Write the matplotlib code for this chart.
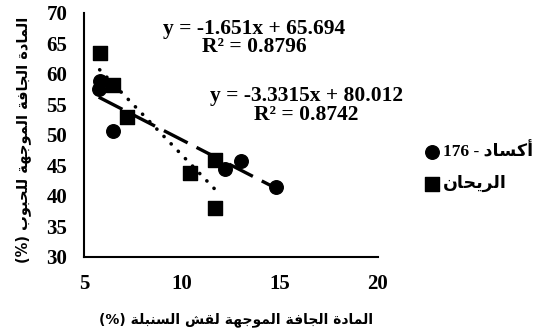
import matplotlib
matplotlib.use("Agg")
import matplotlib.pyplot as plt
import numpy as np

# ---- data ----
aksad_label = "أكساد - 176"
rayhan_label = "الريحان"
x_label = "المادة الجافة الموجهة لقش السنبلة (%)"
y_label = "المادة الجافة الموجهة للحبوب (%)"

aksad_x = [5.8, 5.75, 6.5, 12.2, 13.0, 14.8]
aksad_y = [58.9, 57.6, 50.7, 44.5, 45.7, 41.4]
rayhan_x = [5.8, 6.5, 7.2, 10.4, 11.7, 11.7]
rayhan_y = [63.4, 58.2, 53.0, 43.8, 45.9, 38.0]

aksad_slope, aksad_icpt, aksad_r2 = -1.651, 65.694, 0.8796
rayhan_slope, rayhan_icpt, rayhan_r2 = -3.3315, 80.012, 0.8742

x_ticks = [5, 10, 15, 20]
y_ticks = [30, 35, 40, 45, 50, 55, 60, 65, 70]

# ---- minimal Arabic shaping (presentation forms) + visual ordering ----
FORMS = {
    '\u0627': ('\uFE8D', '\uFE8E', None, None),
    '\u0623': ('\uFE83', '\uFE84', None, None),
    '\u0628': ('\uFE8F', '\uFE90', '\uFE91', '\uFE92'),
    '\u0629': ('\uFE93', '\uFE94', None, None),
    '\u062C': ('\uFE9D', '\uFE9E', '\uFE9F', '\uFEA0'),
    '\u062D': ('\uFEA1', '\uFEA2', '\uFEA3', '\uFEA4'),
    '\u062F': ('\uFEA9', '\uFEAA', None, None),
    '\u0631': ('\uFEAD', '\uFEAE', None, None),
    '\u0633': ('\uFEB1', '\uFEB2', '\uFEB3', '\uFEB4'),
    '\u0634': ('\uFEB5', '\uFEB6', '\uFEB7', '\uFEB8'),
    '\u0641': ('\uFED1', '\uFED2', '\uFED3', '\uFED4'),
    '\u0642': ('\uFED5', '\uFED6', '\uFED7', '\uFED8'),
    '\u0643': ('\uFED9', '\uFEDA', '\uFEDB', '\uFEDC'),
    '\u0644': ('\uFEDD', '\uFEDE', '\uFEDF', '\uFEE0'),
    '\u0645': ('\uFEE1', '\uFEE2', '\uFEE3', '\uFEE4'),
    '\u0646': ('\uFEE5', '\uFEE6', '\uFEE7', '\uFEE8'),
    '\u0647': ('\uFEE9', '\uFEEA', '\uFEEB', '\uFEEC'),
    '\u0648': ('\uFEED', '\uFEEE', None, None),
    '\u064A': ('\uFEF1', '\uFEF2', '\uFEF3', '\uFEF4'),
}


def shape_word(w):
    out = []
    for i, c in enumerate(w):
        if c not in FORMS:
            out.append(c)
            continue
        prev_j = i > 0 and w[i - 1] in FORMS and FORMS[w[i - 1]][2] is not None
        next_j = (FORMS[c][2] is not None and i < len(w) - 1 and w[i + 1] in FORMS)
        if prev_j and next_j:
            k = 3
        elif prev_j:
            k = 1
        elif next_j:
            k = 2
        else:
            k = 0
        out.append(FORMS[c][k])
    return ''.join(out)


def visual(text):
    toks = text.split(' ')
    res = []
    for t in reversed(toks):
        if any(ch in FORMS for ch in t):
            res.append(shape_word(t)[::-1])
        else:
            res.append(t)
    return ' '.join(res)


plt.rcParams['font.family'] = ['Liberation Serif', 'DejaVu Sans']
plt.rcParams['font.weight'] = 'bold'

fig = plt.figure(figsize=(5.37, 3.32), dpi=100)
ax = fig.add_axes([0.1564, 0.226, 0.5475, 0.735])

ax.scatter(aksad_x, aksad_y, marker='o', s=95, color='black', zorder=3,
           label=visual(aksad_label))
ax.scatter(rayhan_x, rayhan_y, marker='s', s=95, color='black', zorder=3,
           label=visual(rayhan_label))

xa = np.array([min(aksad_x), max(aksad_x)])
ax.plot(xa, aksad_slope * xa + aksad_icpt, color='black', lw=2.4,
        linestyle=(0, (8, 3)), zorder=2)
xr = np.array([min(rayhan_x), max(rayhan_x)])
ax.plot(xr, rayhan_slope * xr + rayhan_icpt, color='black', lw=2.6,
        linestyle=(0, (0.05, 2.8)), dash_capstyle='round', zorder=2)

ax.text(13.67, 65.9, f"y = {aksad_slope}x + {aksad_icpt}\nR² = {aksad_r2}",
        ha='center', va='center', fontsize=15.5, fontweight='bold',
        linespacing=0.92)
ax.text(16.33, 54.8, f"y = {rayhan_slope}x + {rayhan_icpt:.3f}\nR² = {rayhan_r2}",
        ha='center', va='center', fontsize=15.5, fontweight='bold',
        linespacing=0.92)

ax.set_xlim(5, 20)
ax.set_ylim(30, 70)
ax.set_xticks(x_ticks)
ax.set_yticks(y_ticks)
ax.tick_params(axis='both', length=0, labelsize=15)
ax.tick_params(axis='y', pad=12)
ax.tick_params(axis='x', pad=12)
for lab in ax.get_xticklabels() + ax.get_yticklabels():
    lab.set_fontweight('bold')
for s in ['top', 'right']:
    ax.spines[s].set_visible(False)
for s in ['left', 'bottom']:
    ax.spines[s].set_linewidth(1.5)

ax.set_xlabel(visual(x_label), fontsize=10, fontweight='bold',
              family=['DejaVu Sans'], va='center')
ax.xaxis.set_label_coords(0.517, -0.255)
ax.set_ylabel(visual(y_label), fontsize=10.5, fontweight='bold',
              family=['DejaVu Sans'], va='center')
ax.yaxis.set_label_coords(-0.207, 0.48)

leg = fig.legend(loc='upper left', bbox_to_anchor=(423 / 537, 1 - 143 / 332),
                 frameon=False, handletextpad=0.15, labelspacing=0.85,
                 handlelength=1.0, borderaxespad=0, borderpad=0,
                 prop={'family': ['Liberation Serif', 'DejaVu Sans'],
                       'weight': 'bold', 'size': 12.5})

fig.savefig('out.png', dpi=100)
